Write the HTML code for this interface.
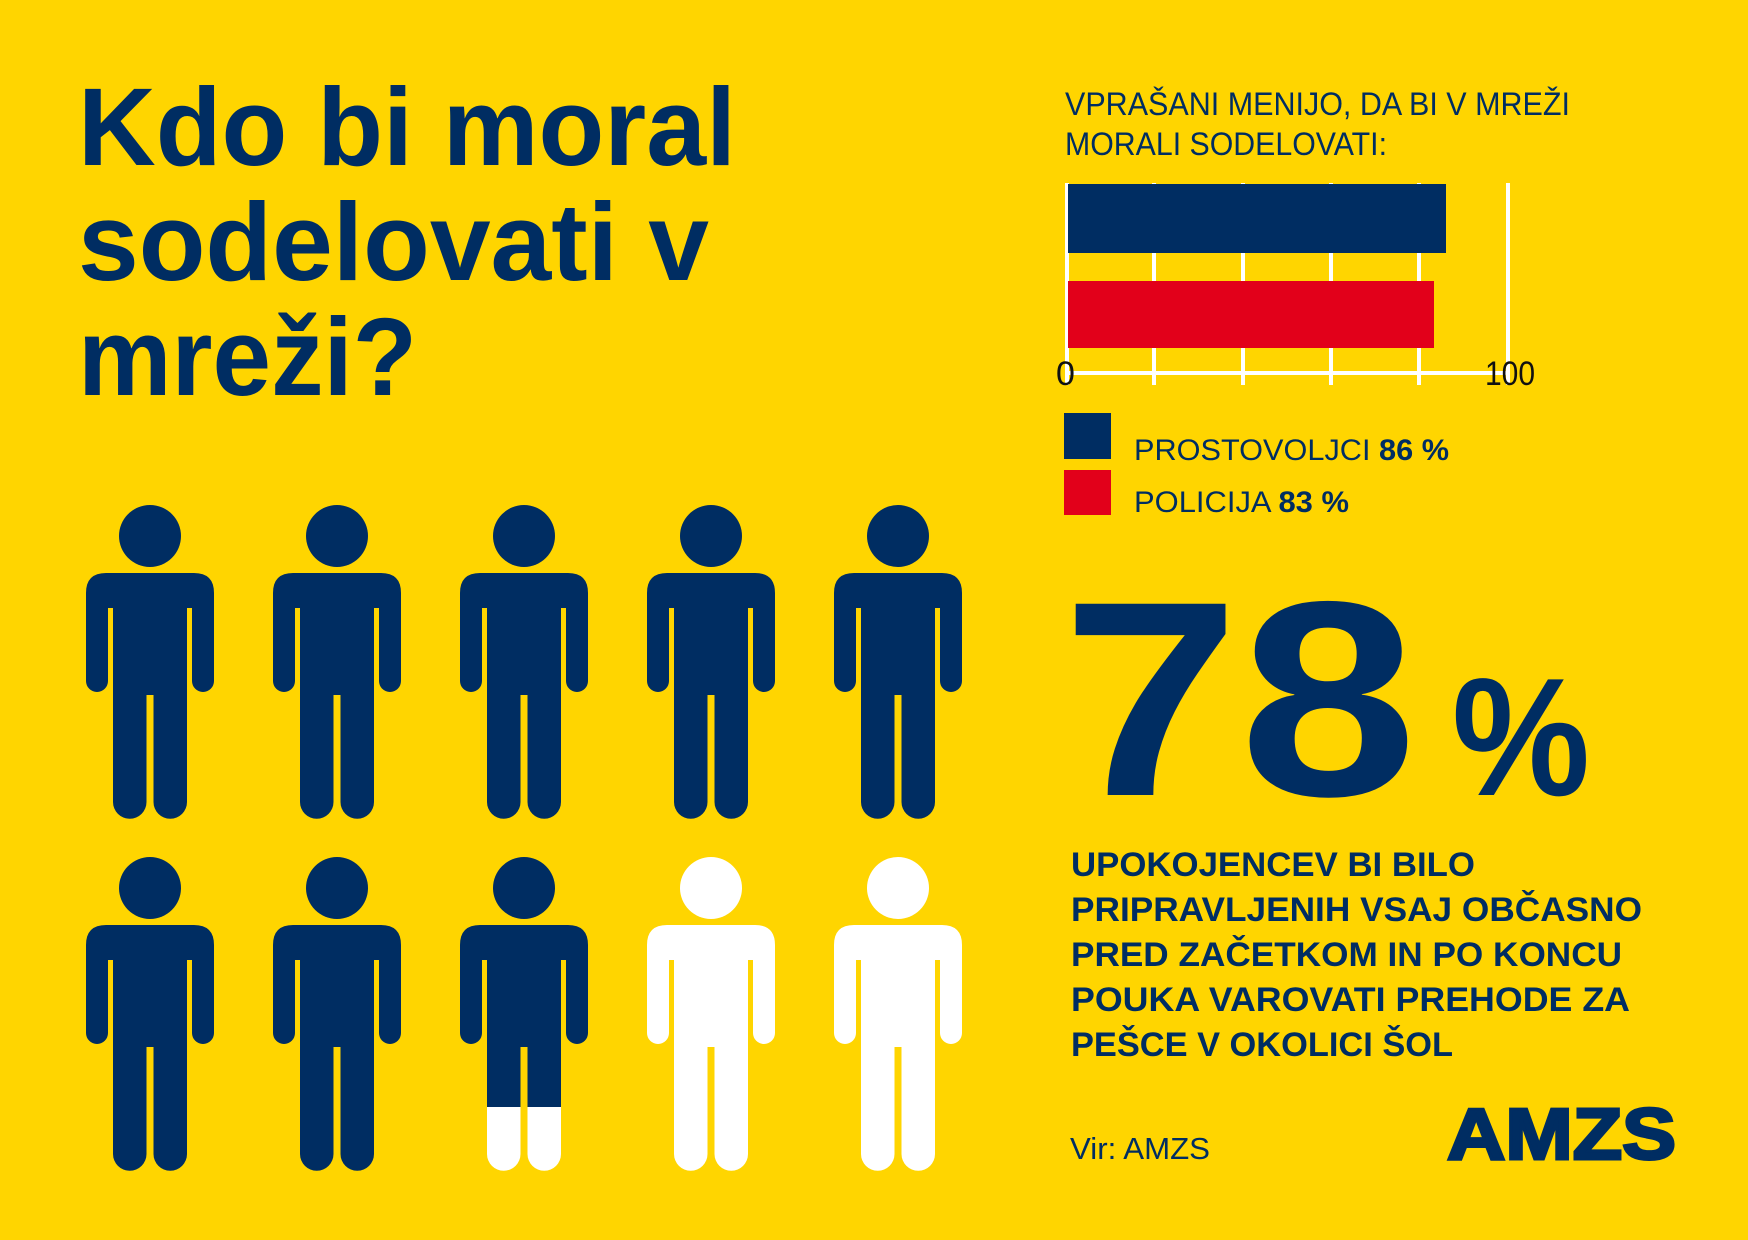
<!DOCTYPE html>
<html><head><meta charset="utf-8"><style>
html,body{margin:0;padding:0;background:#FFD500;}
svg{display:block}
text{font-family:"Liberation Sans",sans-serif;}
</style></head><body>
<svg width="1748" height="1240" viewBox="0 0 1748 1240" xmlns="http://www.w3.org/2000/svg">
<defs>
<g id="p">
<ellipse cx="0" cy="536" rx="31" ry="31"/>
<path d="M -64,593 Q -64,573 -44,573 L 44,573 Q 64,573 64,593 L 64,681 A 11,11 0 0 1 42,681 L 42,608 L 37,608 L 37,802 A 16.75,16.75 0 0 1 3.5,802 L 3.5,695 L -3.5,695 L -3.5,802 A 16.75,16.75 0 0 1 -37,802 L -37,608 L -42,608 L -42,681 A 11,11 0 0 1 -64,681 Z"/>
</g>
<clipPath id="top"><rect x="-100" y="0" width="200" height="755"/></clipPath>
<clipPath id="bot"><rect x="-100" y="755" width="200" height="200"/></clipPath>
</defs>
<rect width="1748" height="1240" fill="#FFD500"/>

<g fill="#002D62" font-weight="bold" font-size="110">
<text x="78" y="165" textLength="658" lengthAdjust="spacingAndGlyphs">Kdo bi moral</text>
<text x="78" y="280" textLength="631" lengthAdjust="spacingAndGlyphs">sodelovati v</text>
<text x="78" y="395" textLength="339" lengthAdjust="spacingAndGlyphs">mreži?</text>
</g>

<g fill="#002D62">
<use href="#p" x="150"/><use href="#p" x="337"/><use href="#p" x="524"/><use href="#p" x="711"/><use href="#p" x="898"/>
<g transform="translate(0,352)">
<use href="#p" x="150"/><use href="#p" x="337"/>
<g transform="translate(524,0)"><use href="#p" clip-path="url(#top)"/><use href="#p" fill="#fff" clip-path="url(#bot)"/></g>
<use href="#p" x="711" fill="#fff"/><use href="#p" x="898" fill="#fff"/>
</g>
</g>

<g fill="#002D62" font-size="32">
<text x="1065" y="115" textLength="505" lengthAdjust="spacingAndGlyphs">VPRAŠANI MENIJO, DA BI V MREŽI</text>
<text x="1065" y="155" textLength="322" lengthAdjust="spacingAndGlyphs">MORALI SODELOVATI:</text>
</g>

<g fill="#fff">
<rect x="1065" y="183" width="4" height="202"/>
<rect x="1506" y="183" width="4" height="202"/>
<rect x="1152" y="183" width="4" height="202"/>
<rect x="1241" y="183" width="4" height="202"/>
<rect x="1329" y="183" width="4" height="202"/>
<rect x="1417" y="183" width="4" height="202"/>
<rect x="1065" y="371" width="445" height="4"/>
</g>
<rect x="1068" y="184" width="378" height="69" fill="#002D62"/>
<rect x="1068" y="281" width="366" height="67" fill="#E2001A"/>
<g fill="#111" font-size="34">
<text x="1056" y="385">0</text>
<text x="1485" y="385" textLength="50" lengthAdjust="spacingAndGlyphs">100</text>
</g>

<rect x="1064" y="413" width="47" height="46" fill="#002D62"/>
<rect x="1064" y="470" width="47" height="45" fill="#E2001A"/>
<g fill="#002D62" font-size="30">
<text x="1134" y="460" textLength="315" lengthAdjust="spacingAndGlyphs">PROSTOVOLJCI <tspan font-weight="bold">86 %</tspan></text>
<text x="1134" y="512" textLength="215" lengthAdjust="spacingAndGlyphs">POLICIJA <tspan font-weight="bold">83 %</tspan></text>
</g>

<g fill="#002D62" font-weight="bold">
<text x="1062" y="795" font-size="278" textLength="355" lengthAdjust="spacingAndGlyphs">78</text>
<text x="1452" y="795" font-size="168" textLength="138" lengthAdjust="spacingAndGlyphs">%</text>
</g>
<g fill="#002D62" font-weight="bold" font-size="34">
<text x="1071" y="876" textLength="404" lengthAdjust="spacingAndGlyphs">UPOKOJENCEV BI BILO</text>
<text x="1071" y="921" textLength="571" lengthAdjust="spacingAndGlyphs">PRIPRAVLJENIH VSAJ OBČASNO</text>
<text x="1071" y="966" textLength="551" lengthAdjust="spacingAndGlyphs">PRED ZAČETKOM IN PO KONCU</text>
<text x="1071" y="1011" textLength="559" lengthAdjust="spacingAndGlyphs">POUKA VAROVATI PREHODE ZA</text>
<text x="1071" y="1056" textLength="382" lengthAdjust="spacingAndGlyphs">PEŠCE V OKOLICI ŠOL</text>
</g>
<text x="1070" y="1159" fill="#002D62" font-size="31" textLength="140" lengthAdjust="spacingAndGlyphs">Vir: AMZS</text>
<text x="1447" y="1159" fill="#002D62" font-size="72" font-weight="bold" textLength="229" lengthAdjust="spacingAndGlyphs" stroke="#002D62" stroke-width="3">AMZS</text>
</svg>
</body></html>
